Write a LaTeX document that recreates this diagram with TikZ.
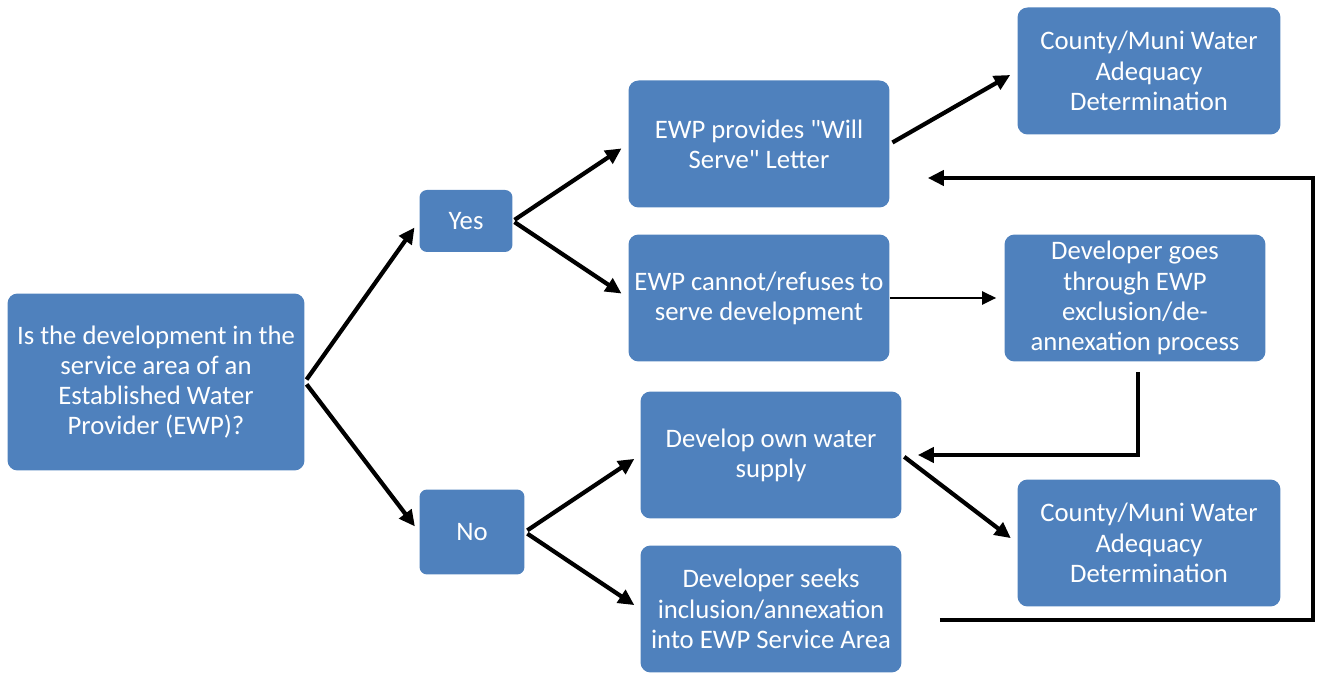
\documentclass[tikz,border=0pt]{standalone}
\usepackage{fontspec}
\setmainfont{Carlito}[Ligatures=TeXOff]
\usetikzlibrary{arrows.meta, positioning, calc}
\definecolor{boxblue}{HTML}{4F81BD}
\tikzset{
    flow/.style={-{Triangle[length=0.32cm,width=0.3cm]}, line width=2.4pt},
    thinflow/.style={-{Triangle[length=0.28cm,width=0.26cm]}, line width=1.4pt},
    every node/.style={font=\fontsize{15.2}{17.2}\selectfont}
}
\begin{document}
\begin{tikzpicture}[
    x=0.02cm,y=0.02cm,
    stepbox/.style={
        fill=boxblue,
        rounded corners=0.2cm,
        minimum width=5.22cm,
        minimum height=2.54cm,
        align=center,
        text=white
    },
    answer/.style={
        fill=boxblue,
        rounded corners=0.15cm,
        align=center,
        text=white
    }
]
\useasboundingbox (0,0) rectangle (1318,675);

% question and answers
\node[stepbox, minimum width=5.94cm, minimum height=3.54cm] (question) at (156,293)
{Is the development in the\\ service area of an\\ Established Water\\ Provider (EWP)?};
\node[answer, minimum width=1.86cm, minimum height=1.24cm] (yes) at (466,454) {Yes};
\node[answer, minimum width=2.1cm, minimum height=1.7cm] (no) at (472,143) {No};

% yes branch
\node[stepbox] (provides) at (759,531) {EWP provides "Will\\ Serve" Letter};
\node[stepbox] (cannot) at (759,377) {EWP cannot/refuses to\\ serve development};
\node[stepbox, minimum width=5.26cm] (countytop) at (1149,604) {County/Muni Water\\ Adequacy\\ Determination};
\node[stepbox] (exclusion) at (1135,377) {Developer goes\\ through EWP\\ exclusion/de-\\ annexation process};

% no branch
\node[stepbox] (ownsupply) at (771,220) {Develop own water\\ supply};
\node[stepbox] (inclusion) at (771,66) {Developer seeks\\ inclusion/annexation\\ into EWP Service Area};
\node[stepbox, minimum width=5.26cm] (countybot) at (1149,132) {County/Muni Water\\ Adequacy\\ Determination};

\coordinate (loopbot) at (1313,55);
\coordinate (looptop) at (1313,497);

\draw[flow, shorten <=0.06cm, shorten >=0.16cm] (question.east) -- (yes.west);
\draw[flow, shorten <=0.06cm, shorten >=0.14cm] (question.east) -- (no.west);
\draw[flow, shorten <=0.04cm, shorten >=0.16cm] (yes.east) -- (provides.west);
\draw[flow, shorten <=0.04cm, shorten >=0.16cm] (yes.east) -- (cannot.west);
\draw[flow, shorten <=0.06cm, shorten >=0.16cm] (provides.east) -- (countytop.west);
\draw[thinflow, shorten >=0.16cm] (cannot.east) -- (exclusion.west);
\draw[flow, shorten <=0.2cm, shorten >=0.32cm] ([xshift=0.06cm]exclusion.south) |- (ownsupply.east);
\draw[flow, shorten <=0.06cm, shorten >=0.16cm] (ownsupply.east) -- (countybot.west);
\draw[flow, shorten <=0.76cm, shorten >=0.76cm] (inclusion.east |- loopbot) -- (loopbot) -- (looptop) -- (provides.east |- looptop);
\draw[flow, shorten <=0.06cm, shorten >=0.14cm] (no.east) -- (ownsupply.west);
\draw[flow, shorten <=0.06cm, shorten >=0.14cm] (no.east) -- (inclusion.west);

\end{tikzpicture}
\end{document}
